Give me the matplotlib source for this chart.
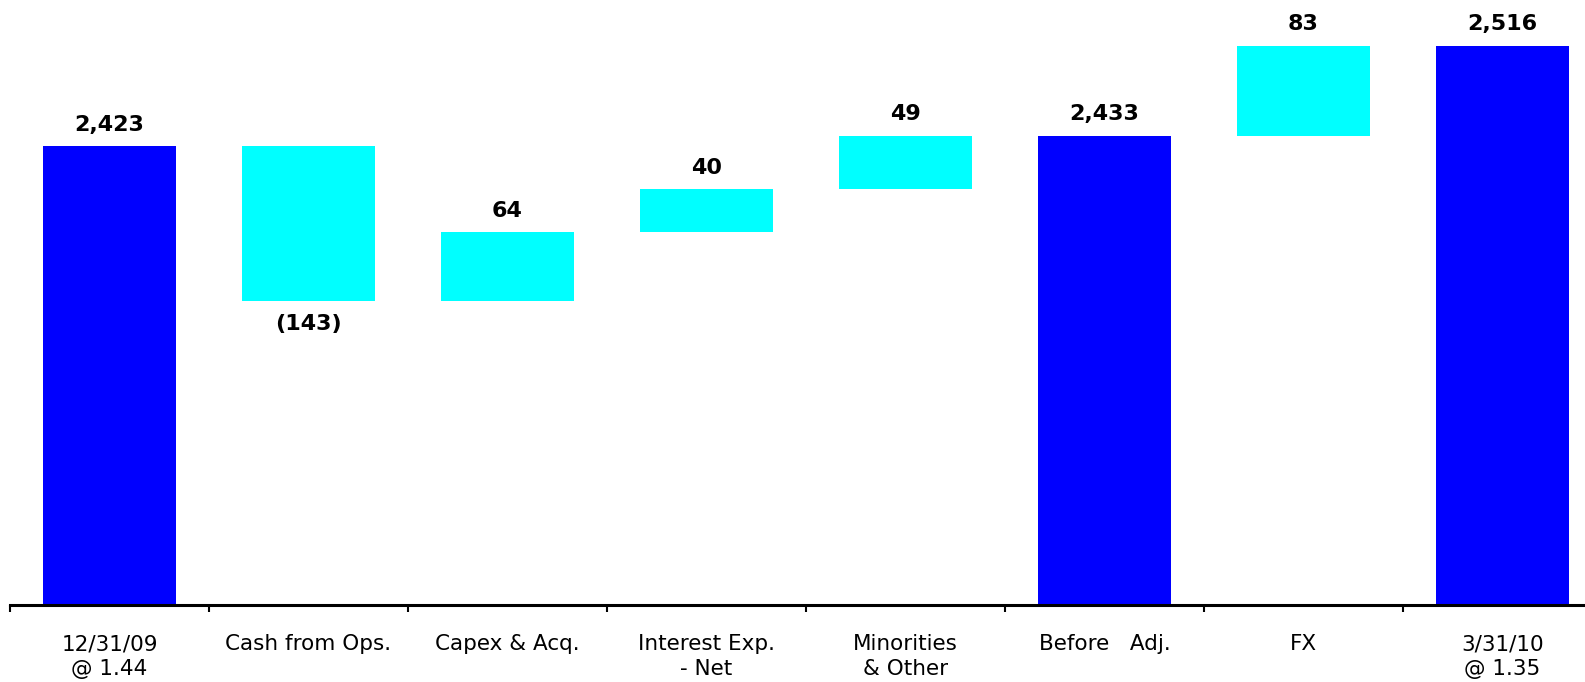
import matplotlib.pyplot as plt
import numpy as np

categories = ["12/31/09\n@ 1.44", "Cash from Ops.", "Capex & Acq.", "Interest Exp.\n- Net",
              "Minorities\n& Other", "Before   Adj.", "FX", "3/31/10\n@ 1.35"]
# totals (None = change bar)
totals = [2423, None, None, None, None, 2433, None, 2516]
changes = [None, -143, 64, 40, 49, None, 83, None]

# build bar bottoms/heights for the waterfall
bottoms, heights, colors, labels = [], [], [], []
running = 0
for tot, chg in zip(totals, changes):
    if tot is not None:
        running = tot
        bottoms.append(0)
        heights.append(tot)
        colors.append("#0000FF")
        labels.append(f"{tot:,}")
    else:
        start = running
        running = running + chg
        bottoms.append(min(start, running))
        heights.append(abs(chg))
        colors.append("#00FFFF")
        labels.append(f"({abs(chg)})" if chg < 0 else f"{chg}")

fig = plt.figure(figsize=(15.85, 6.82), dpi=100)
ax = fig.add_axes([10 / 1585, 77 / 682, 1592 / 1585, 605 / 682])

x = np.arange(len(categories))
ax.bar(x, heights, bottom=bottoms, width=0.67, color=colors, zorder=2)

ax.set_ylim(2000, 2558)
ax.set_xlim(-0.5, len(categories) - 0.5)

for i in range(len(categories)):
    top = bottoms[i] + heights[i]
    if changes[i] is not None and changes[i] < 0:
        ax.annotate(labels[i], (x[i], bottoms[i]), xytext=(0, -9), textcoords="offset points",
                    ha="center", va="top", fontsize=16, fontweight="bold")
    else:
        ax.annotate(labels[i], (x[i], top), xytext=(0, 8), textcoords="offset points",
                    ha="center", va="bottom", fontsize=16, fontweight="bold")

for s in ["top", "left", "right"]:
    ax.spines[s].set_visible(False)
ax.spines["bottom"].set_linewidth(2.2)
ax.set_yticks([])

ax.set_xticks(x)
ax.set_xticklabels(categories, fontsize=15.5, linespacing=1.3)
ax.tick_params(axis="x", which="major", length=0, pad=21)
ax.set_xticks(np.arange(-0.5, len(categories)), minor=True)
ax.tick_params(axis="x", which="minor", length=5, width=1.5, direction="out")

fig.savefig("out.png", dpi=100)
